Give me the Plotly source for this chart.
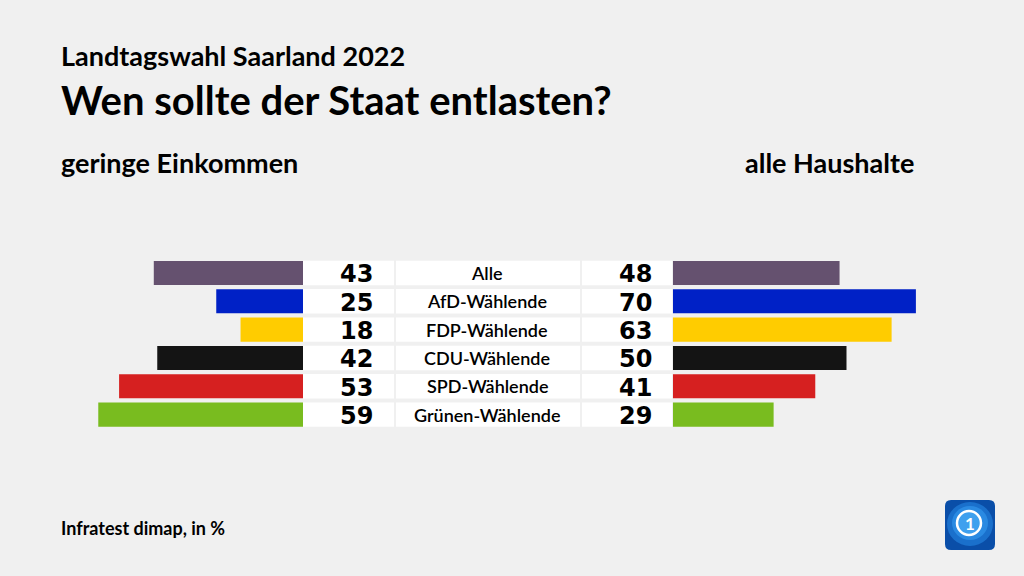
import plotly.graph_objects as go

# ---- data ----
categories = ["Alle", "AfD-Wählende", "FDP-Wählende", "CDU-Wählende", "SPD-Wählende", "Grünen-Wählende"]
geringe_einkommen = [43, 25, 18, 42, 53, 59]
alle_haushalte = [48, 70, 63, 50, 41, 29]
bar_colors = ["#65516f", "#0021c6", "#ffcc00", "#141414", "#d62020", "#79bc1f"]

title_top = "Landtagswahl Saarland 2022"
title_main = "Wen sollte der Staat entlasten?"
left_header = "geringe Einkommen"
right_header = "alle Haushalte"
source = "Infratest dimap, in %"

W, H = 1024, 576
FONT = "Lato"
NUMFONT = "DejaVu Sans"
BG = "#f0f0f0"


def px(x):
    return x / W


def py(y):
    return 1 - y / H


SCALE = 3.47  # pixels per percent
left_end = 303
right_start = 673

fig = go.Figure()
fig.add_trace(go.Bar(
    y=categories, x=geringe_einkommen, orientation="h",
    marker=dict(color=bar_colors, line=dict(width=0)),
    xaxis="x", yaxis="y", hoverinfo="x+y", name=left_header,
))
fig.add_trace(go.Bar(
    y=categories, x=alle_haushalte, orientation="h",
    marker=dict(color=bar_colors, line=dict(width=0)),
    xaxis="x2", yaxis="y", hoverinfo="x+y", name=right_header,
))

shapes = []
annotations = []
half = 0.43
for i, cat in enumerate(categories):
    for x0, x1 in [(303, 394), (396, 580), (582, 672)]:
        shapes.append(dict(type="rect", xref="paper", yref="y",
                           x0=px(x0), x1=px(x1), y0=i - half, y1=i + half,
                           fillcolor="white", line=dict(width=0), layer="below"))
    annotations.append(dict(xref="paper", yref="y", x=px(375), y=i, xanchor="right", yanchor="middle",
                            text=f"<b>{geringe_einkommen[i]}</b>", showarrow=False, yshift=-1.5,
                            font=dict(family=NUMFONT, size=24, color="#000")))
    annotations.append(dict(xref="paper", yref="y", x=px(654), y=i, xanchor="right", yanchor="middle",
                            text=f"<b>{alle_haushalte[i]}</b>", showarrow=False, yshift=-1.5,
                            font=dict(family=NUMFONT, size=24, color="#000")))
    annotations.append(dict(xref="paper", yref="y", x=px(487), y=i, xanchor="center", yanchor="middle",
                            text=cat, showarrow=False,
                            font=dict(family=FONT, size=18, color="#000", weight=600)))

annotations += [
    dict(xref="paper", yref="paper", x=px(59), y=py(55), xanchor="left", yanchor="middle",
         text=f"<b>{title_top}</b>", showarrow=False, font=dict(family=FONT, size=27, color="#000")),
    dict(xref="paper", yref="paper", x=px(59), y=py(100), xanchor="left", yanchor="middle",
         text=f"<b>{title_main}</b>", showarrow=False, font=dict(family=FONT, size=40, color="#000")),
    dict(xref="paper", yref="paper", x=px(59), y=py(162), xanchor="left", yanchor="middle",
         text=f"<b>{left_header}</b>", showarrow=False, font=dict(family=FONT, size=27, color="#000")),
    dict(xref="paper", yref="paper", x=px(916), y=py(162), xanchor="right", yanchor="middle",
         text=f"<b>{right_header}</b>", showarrow=False, font=dict(family=FONT, size=27, color="#000")),
    dict(xref="paper", yref="paper", x=px(59), y=py(528), xanchor="left", yanchor="middle",
         text=f"<b>{source}</b>", showarrow=False, font=dict(family=FONT, size=18, color="#000")),
]

# logo
lx0, lx1, ly0, ly1, r = 945, 995, 500, 550, 6
path = (f"M {px(lx0+r)},{py(ly0)} L {px(lx1-r)},{py(ly0)} Q {px(lx1)},{py(ly0)} {px(lx1)},{py(ly0+r)} "
        f"L {px(lx1)},{py(ly1-r)} Q {px(lx1)},{py(ly1)} {px(lx1-r)},{py(ly1)} "
        f"L {px(lx0+r)},{py(ly1)} Q {px(lx0)},{py(ly1)} {px(lx0)},{py(ly1-r)} "
        f"L {px(lx0)},{py(ly0+r)} Q {px(lx0)},{py(ly0)} {px(lx0+r)},{py(ly0)} Z")
shapes.append(dict(type="path", xref="paper", yref="paper", path=path,
                   fillcolor="#0a4ea8", line=dict(width=0)))
shapes.append(dict(type="circle", xref="paper", yref="paper",
                   x0=px(947), x1=px(993), y0=py(546), y1=py(502),
                   fillcolor="#1a70cc", line=dict(width=0)))
shapes.append(dict(type="circle", xref="paper", yref="paper",
                   x0=px(952), x1=px(988), y0=py(540), y1=py(506),
                   fillcolor="#2a8ae2", line=dict(width=0)))
shapes.append(dict(type="circle", xref="paper", yref="paper",
                   x0=px(957), x1=px(981), y0=py(535), y1=py(511),
                   fillcolor="#3fa0ee", line=dict(color="white", width=2.5)))
annotations.append(dict(xref="paper", yref="paper", x=px(969.5), y=py(523), xanchor="center", yanchor="middle",
                        text="<b>1</b>", showarrow=False, font=dict(family=FONT, size=17, color="white")))

fig.update_layout(
    width=W, height=H,
    paper_bgcolor=BG, plot_bgcolor=BG,
    margin=dict(l=0, r=0, t=0, b=0),
    showlegend=False,
    barmode="overlay",
    bargap=0.15,
    xaxis=dict(domain=[0, px(left_end)], range=[left_end / SCALE, 0], visible=False, fixedrange=True),
    xaxis2=dict(domain=[px(right_start), 1], range=[0, (W - right_start) / SCALE], visible=False,
                fixedrange=True, anchor="y"),
    yaxis=dict(domain=[py(428.8), py(258.8)], range=[5.5, -0.5], visible=False, fixedrange=True,
               type="category"),
    shapes=shapes,
    annotations=annotations,
)

fig.write_html("out.html", config={"displayModeBar": False})

# remove the default page margin so the figure sits at the window's top-left corner
with open("out.html", encoding="utf-8") as f:
    html = f.read()
html = html.replace("<head>", "<head><style>html,body{margin:0;padding:0;background:%s;}</style>" % BG, 1)
with open("out.html", "w", encoding="utf-8") as f:
    f.write(html)
